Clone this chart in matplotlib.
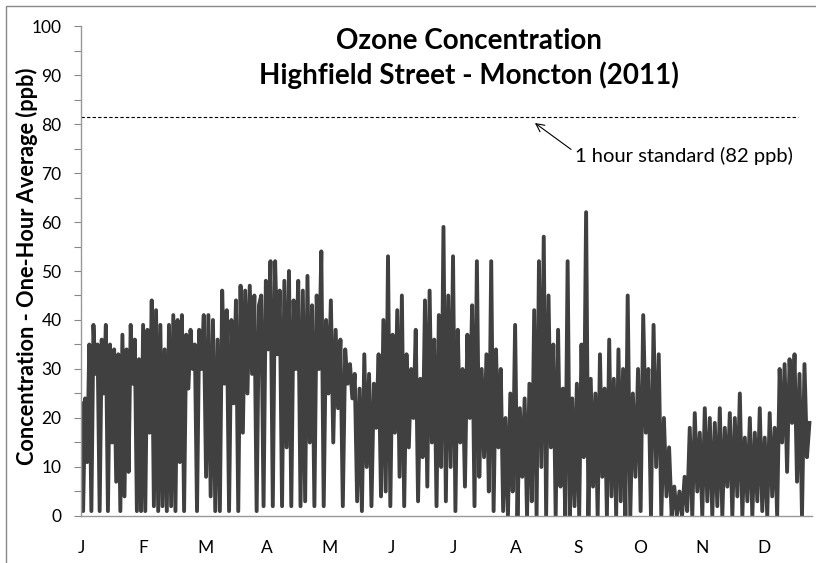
import matplotlib.pyplot as plt
import numpy as np
from matplotlib.patches import Rectangle

plt.rcParams['font.family'] = ['Lato', 'DejaVu Sans']

# peaks and troughs, one list per month (ppb)
jan = [23, 1, 24, 11, 35, 1, 39, 29, 35, 1, 36, 25, 39, 1, 35, 15, 34, 7, 33, 1,
       37, 4, 34, 9, 39, 27, 36, 1, 32, 1]
feb = [39, 1, 38, 17, 44, 2, 42, 1, 39, 2, 34, 1, 39, 2, 41, 1, 40, 11, 41, 1,
       37, 26, 38, 30, 35, 1]
mar = [38, 30, 41, 8, 41, 4, 40, 1, 36, 1, 46, 27, 42, 1, 40, 23, 44, 1, 47, 17,
       46, 25, 47, 29, 45, 1, 43]
apr = [45, 2, 48, 34, 52, 2, 52, 33, 46, 2, 48, 14, 50, 2, 44, 30, 48, 2, 46, 3,
       49, 15, 43, 2, 45, 30]
may = [54, 2, 40, 25, 44, 15, 38, 22, 36, 2, 34, 27, 31, 24, 29, 3, 26, 1, 33, 10,
       29, 2, 27, 18, 33, 4]
jun = [40, 5, 53, 2, 37, 17, 42, 8, 45, 2, 33, 14, 30, 20, 38, 3, 28, 12, 44, 6,
       46, 15, 36, 2, 41, 10]
jul = [59, 3, 45, 10, 53, 1, 38, 15, 30, 6, 37, 20, 43, 2, 52, 8, 30, 12, 33, 5,
       52, 1, 34, 14, 30, 1]
aug = [20, 0, 25, 5, 39, 0, 22, 8, 24, 0, 27, 3, 42, 0, 52, 10, 57, 0, 45, 14,
       35, 0, 38, 6, 26, 0]
sep = [52, 0, 24, 2, 27, 0, 35, 12, 62, 0, 28, 6, 25, 0, 33, 8, 26, 0, 36, 4,
       28, 0, 34, 3, 30, 0]
oct_ = [45, 0, 25, 8, 30, 1, 41, 17, 30, 0, 39, 10, 33, 0, 20, 4, 14, 0, 6, 0,
        5, 0, 8, 1]
nov = [18, 0, 21, 5, 17, 0, 22, 3, 20, 0, 19, 2, 22, 0, 18, 6, 21, 0, 20, 4,
       25, 0, 16, 3]
dec = [20, 0, 17, 3, 22, 1, 16, 0, 21, 4, 18, 0, 30, 15, 31, 9, 32, 19, 33, 7,
       29, 0, 31, 12, 19]

months = [jan, feb, mar, apr, may, jun, jul, aug, sep, oct_, nov, dec]
days_in_month = [31, 28, 31, 30, 31, 30, 31, 31, 30, 31, 30, 31]
month_labels = ['J', 'F', 'M', 'A', 'M', 'J', 'J', 'A', 'S', 'O', 'N', 'D']
standard_ppb = 81.5

# hour positions for each month's readings
hours = []
values = []
start = 0
for vals, nd in zip(months, days_in_month):
    end = start + nd * 24
    hours.extend(np.linspace(start, end, len(vals), endpoint=False))
    values.extend(vals)
    start = end
total_hours = start

fig = plt.figure(figsize=(8.16, 5.63), dpi=100)
ax = fig.add_axes([0.0993, 0.0835, 0.8957, 0.8703])

ax.plot(hours, values, color='#404040', linewidth=2.8)

# standard line + annotation
ax.axhline(standard_ppb, xmin=0, xmax=0.981, color='black', linewidth=0.8,
           linestyle=(0, (3, 2)))
ax.annotate('1 hour standard (82 ppb)', xy=(5440, 80.2), xytext=(5920, 73.5),
            fontsize=14.5, ha='left', va='center',
            arrowprops=dict(arrowstyle='->', color='black', lw=0.8,
                            relpos=(0, 0.7), shrinkA=1, shrinkB=0))

ax.set_xlim(0, total_hours)
ax.set_ylim(0, 100)
ax.set_yticks(np.arange(0, 101, 10))
ax.set_yticks(np.arange(5, 100, 10), minor=True)
ax.set_xticks(np.arange(12) * 744)
ax.set_xticklabels(month_labels)

ax.tick_params(axis='y', which='both', direction='out', length=5, width=0.8,
               color='#888888', labelsize=12.5, pad=9)
ax.tick_params(axis='x', length=0, labelsize=12.5, pad=17)

for side in ['top', 'right']:
    ax.spines[side].set_visible(False)
for side in ['left', 'bottom']:
    ax.spines[side].set_color('#999999')
    ax.spines[side].set_linewidth(1.0)

ax.set_ylabel('Concentration - One-Hour Average (ppb)', fontsize=15.7,
              fontweight='bold')
ax.yaxis.set_label_coords(-0.059, 0.51)

fig.text(0.575, 0.896, 'Ozone Concentration\nHighfield Street - Moncton (2011)',
         ha='center', va='center', fontsize=20, fontweight='bold',
         linespacing=1.33)

# chart area border (cut off on the right and bottom)
fig.patches.append(Rectangle((6 / 816, -0.1), 1.2, 1.1 - 6 / 563,
                             transform=fig.transFigure, fill=False,
                             edgecolor='#888888', linewidth=1.0))

fig.savefig('out.png', dpi=100)
